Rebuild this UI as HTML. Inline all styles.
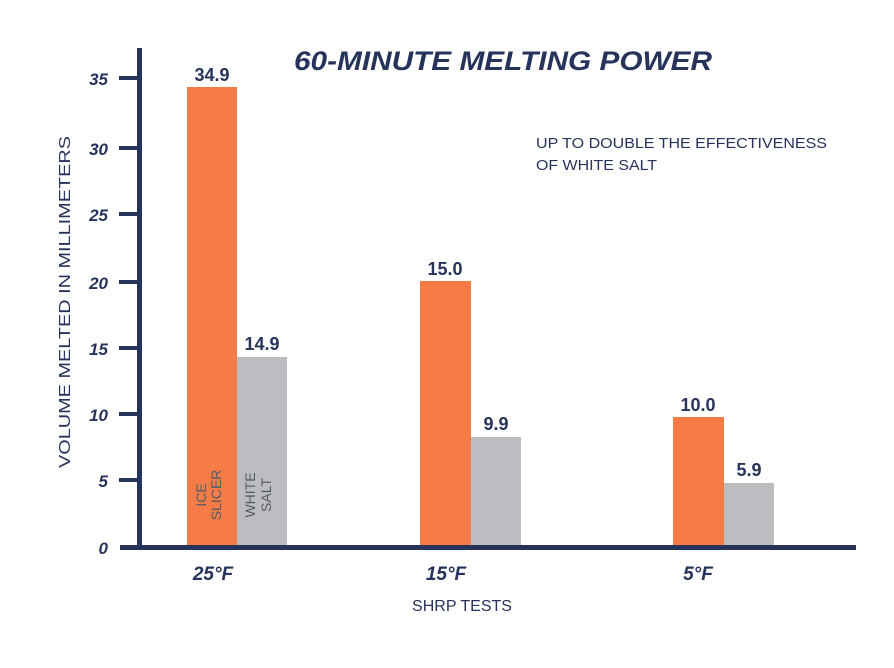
<!DOCTYPE html>
<html><head><style>body{margin:0;background:#fff}svg{display:block}</style></head><body>
<svg width="894" height="668" viewBox="0 0 894 668" xmlns="http://www.w3.org/2000/svg" font-family="Liberation Sans, sans-serif">
<rect width="894" height="668" fill="#fff"/>
<g fill="#f57c46">
<rect x="187" y="87" width="50" height="460"/>
<rect x="420" y="281" width="51" height="266"/>
<rect x="673" y="417" width="51" height="130"/>
</g>
<g fill="#bcbdc0">
<rect x="237" y="357" width="50" height="190"/>
<rect x="471" y="437" width="50" height="110"/>
<rect x="724" y="483" width="50" height="64"/>
</g>
<rect x="137" y="48" width="5" height="502" fill="#26335a"/>
<rect x="120" y="545" width="736" height="5" fill="#26335a"/>
<g fill="#26335a">
<rect x="119" y="76" width="20" height="4"/>
<rect x="119" y="146" width="20" height="4"/>
<rect x="119" y="212" width="20" height="4"/>
<rect x="119" y="280" width="20" height="4"/>
<rect x="119" y="346" width="20" height="4"/>
<rect x="119" y="412" width="20" height="4"/>
<rect x="119" y="478" width="20" height="4"/>
</g>
<g fill="#26335a" font-weight="bold" font-style="italic" font-size="17" text-anchor="end">
<text x="108" y="85">35</text><text x="108" y="155">30</text><text x="108" y="221">25</text>
<text x="108" y="289">20</text><text x="108" y="355">15</text><text x="108" y="421">10</text>
<text x="108" y="487">5</text><text x="108" y="554">0</text>
</g>
<text x="294" y="70" font-size="27" font-weight="bold" font-style="italic" fill="#26335a" textLength="418" lengthAdjust="spacingAndGlyphs">60-MINUTE MELTING POWER</text>
<g fill="#26335a" font-size="15">
<text x="536" y="148" textLength="291" lengthAdjust="spacingAndGlyphs">UP TO DOUBLE THE EFFECTIVENESS</text>
<text x="536" y="170" textLength="121" lengthAdjust="spacingAndGlyphs">OF WHITE SALT</text>
</g>
<g fill="#26335a" font-size="18" font-weight="bold" text-anchor="middle">
<text x="212" y="81">34.9</text><text x="262" y="350">14.9</text>
<text x="445" y="275">15.0</text><text x="496" y="430">9.9</text>
<text x="698" y="411">10.0</text><text x="749" y="476">5.9</text>
</g>
<g fill="#26335a" font-size="19" font-weight="bold" font-style="italic" text-anchor="middle">
<text x="213" y="580">25°F</text><text x="446" y="580">15°F</text><text x="698" y="580">5°F</text>
</g>
<text x="462" y="611" font-size="16" fill="#26335a" text-anchor="middle">SHRP TESTS</text>
<text transform="translate(70,302) rotate(-90)" font-size="16" fill="#26335a" text-anchor="middle" textLength="332" lengthAdjust="spacingAndGlyphs">VOLUME MELTED IN MILLIMETERS</text>
<g font-size="14" fill="#555a66" text-anchor="middle">
<text transform="translate(206,495) rotate(-90)">ICE</text>
<text transform="translate(221,495) rotate(-90)">SLICER</text>
<text transform="translate(255,495) rotate(-90)">WHITE</text>
<text transform="translate(271,495) rotate(-90)">SALT</text>
</g>
</svg>
</body></html>
